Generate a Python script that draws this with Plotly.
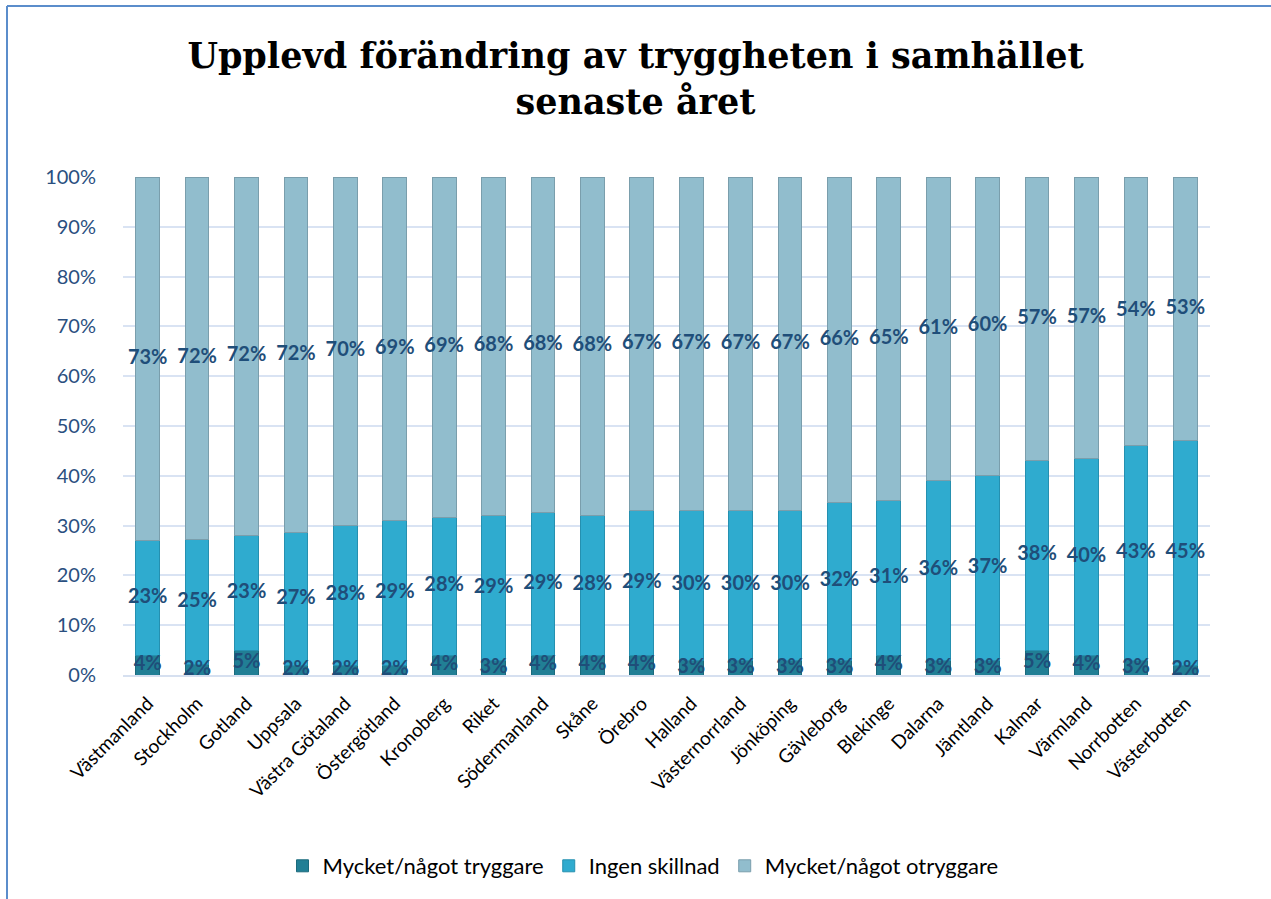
import plotly.graph_objects as go

categories = ["Västmanland", "Stockholm", "Gotland", "Uppsala", "Västra Götaland",
              "Östergötland", "Kronoberg", "Riket", "Södermanland", "Skåne", "Örebro",
              "Halland", "Västernorrland", "Jönköping", "Gävleborg", "Blekinge",
              "Dalarna", "Jämtland", "Kalmar", "Värmland", "Norrbotten", "Västerbotten"]

tryggare = [4, 2, 5, 2, 2, 2, 4, 3, 4, 4, 4, 3, 3, 3, 3, 4, 3, 3, 5, 4, 3, 2]
ingen_skillnad = [23, 25, 23, 27, 28, 29, 28, 29, 29, 28, 29, 30, 30, 30, 32, 31, 36, 37, 38, 40, 43, 45]
otryggare = [73, 72, 72, 72, 70, 69, 69, 68, 68, 68, 67, 67, 67, 67, 66, 65, 61, 60, 57, 57, 54, 53]

series_names = ["Mycket/något tryggare", "Ingen skillnad", "Mycket/något otryggare"]
series_values = [tryggare, ingen_skillnad, otryggare]
series_colors = ["#217f95", "#2fabcf", "#91bdcd"]
series_lines = ["#1b6a7c", "#2590b0", "#7a9eac"]

label_color = "#1f4e79"
font_main = "Lato, 'Open Sans', sans-serif"

fig = go.Figure()
for name, vals, col, lc in zip(series_names, series_values, series_colors, series_lines):
    fig.add_trace(go.Bar(
        x=categories,
        y=vals,
        name=name,
        marker=dict(color=col, line=dict(color=lc, width=1)),
        width=0.48,
        hoverinfo="name+y",
    ))

# data labels in the middle of each (normalised) segment, drawn on top of all bars
totals = [a + b + c for a, b, c in zip(tryggare, ingen_skillnad, otryggare)]
base = [0] * len(categories)
for vals in series_values:
    mids = [(b + v / 2) / t * 100 for b, v, t in zip(base, vals, totals)]
    base = [b + v for b, v in zip(base, vals)]
    fig.add_trace(go.Scatter(
        x=categories, y=mids, mode="text",
        text=[f"{v}%" for v in vals],
        textposition="middle center",
        textfont=dict(family=font_main, size=20, color=label_color, weight="bold"),
        showlegend=False, hoverinfo="skip",
    ))

# Plot area geometry (pixels)
W, H = 1271, 899
L, R, T, B = 123, 61, 177, 224
pw, ph = W - L - R, H - T - B

def px_x(x):
    return (x - L) / pw

def px_y(y):
    return (H - B - y) / ph

fig.update_layout(
    width=W, height=H,
    barmode="stack",
    barnorm="percent",
    bargap=0.52,
    paper_bgcolor="white",
    plot_bgcolor="white",
    margin=dict(l=L, r=R, t=T, b=B),
    title=dict(
        text="Upplevd förändring av tryggheten i samhället<br>senaste året",
        x=0.5, xanchor="center",
        y=1 - 68 / H, yanchor="middle",
        font=dict(family="'DejaVu Serif', serif", size=35, color="black", weight="bold"),
    ),
    xaxis=dict(
        tickangle=-45,
        tickfont=dict(family=font_main, size=19, color="black"),
        showline=True, linecolor="#d6e0f0", linewidth=2,
        range=[-0.5, len(categories) - 0.5],
        ticks="",
        ticklabelstandoff=8,
    ),
    yaxis=dict(
        range=[0, 100],
        dtick=10,
        ticksuffix="%",
        tickfont=dict(family=font_main, size=20, color="#2a4f80"),
        showgrid=True, gridcolor="#d9e3f3", gridwidth=2,
        zeroline=False,
        ticks="", ticklen=0,
        ticklabelstandoff=26,
    ),
    legend=dict(
        orientation="h",
        x=px_x(643), xanchor="center",
        y=px_y(866), yanchor="middle",
        traceorder="normal",
        font=dict(family=font_main, size=22, color="black"),
        itemwidth=30,
    ),
    shapes=[
        dict(type="line", xref="paper", yref="paper",
             x0=px_x(7), x1=px_x(7), y0=px_y(6), y1=px_y(905),
             line=dict(color="#5b8dcb", width=2)),
        dict(type="line", xref="paper", yref="paper",
             x0=px_x(7), x1=px_x(1280), y0=px_y(6), y1=px_y(6),
             line=dict(color="#5b8dcb", width=2)),
    ],
)

fig.write_html("out.html", config={"displayModeBar": False},
               post_script="document.body.style.margin='0px';")
